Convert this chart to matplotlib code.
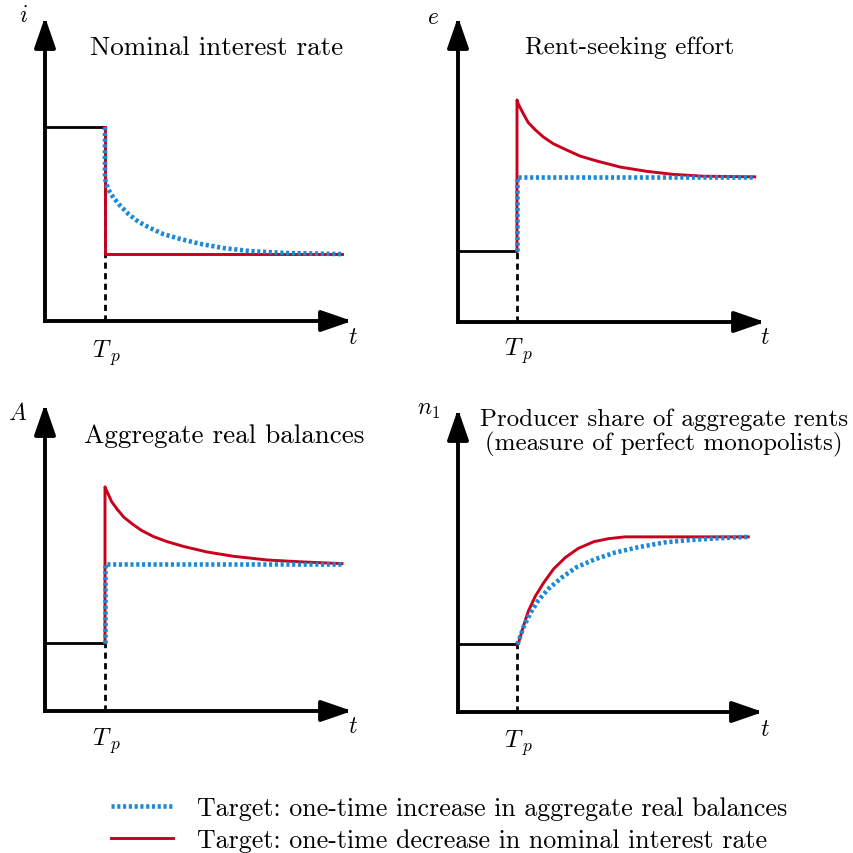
import numpy as np
import matplotlib
matplotlib.use("Agg")
import matplotlib.pyplot as plt

plt.rcParams["font.family"] = ["cmr10", "DejaVu Serif"]
plt.rcParams["mathtext.fontset"] = "cm"
plt.rcParams["axes.unicode_minus"] = False

RED = "#c8001e"
BLUE = "#1a8ad6"

# time of policy change (all panels use Tp = 1)
Tp = 1.0

# panel 1: nominal interest rate
i_before = 3.19
i_after = 1.10
i_end = 4.95
i_blue_x = [1.0, 1.0, 1.05, 1.14, 1.25, 1.39, 1.56, 1.75, 1.97, 2.25, 2.58, 2.97, 3.42, 3.97, 4.95]
i_blue_y = [3.19, 2.34, 2.17, 2.03, 1.90, 1.76, 1.63, 1.53, 1.43, 1.35, 1.27, 1.20, 1.15, 1.12, 1.10]

# panel 2: rent-seeking effort
e_before = 1.16
e_after = 2.38
e_end = 5.03
e_red_x = [1.0, 1.0, 1.02, 1.05, 1.11, 1.19, 1.31, 1.45, 1.62, 1.84, 2.07, 2.35, 2.75, 3.20, 3.65, 4.16, 5.03]
e_red_y = [1.16, 3.64, 3.58, 3.52, 3.41, 3.27, 3.15, 3.03, 2.92, 2.82, 2.72, 2.64, 2.54, 2.47, 2.42, 2.39, 2.38]

# panel 3: aggregate real balances
A_before = 1.11
A_after = 2.39
A_end = 4.95
A_red_x = [1.0, 1.0, 1.03, 1.06, 1.11, 1.20, 1.31, 1.45, 1.61, 1.81, 2.03, 2.31, 2.70, 3.14, 3.70, 4.25, 4.95]
A_red_y = [1.11, 3.65, 3.58, 3.52, 3.41, 3.29, 3.16, 3.05, 2.94, 2.84, 2.76, 2.68, 2.59, 2.52, 2.46, 2.43, 2.40]

# panel 4: producer share of aggregate rents
n_before = 1.12
n_red_x = [1.0, 1.02, 1.11, 1.19, 1.31, 1.45, 1.62, 1.82, 2.04, 2.30, 2.55, 2.83, 4.92]
n_red_y = [1.12, 1.12, 1.42, 1.66, 1.91, 2.13, 2.36, 2.55, 2.70, 2.81, 2.86, 2.89, 2.89]
n_blue_x = [1.0, 1.02, 1.11, 1.22, 1.36, 1.53, 1.76, 2.01, 2.32, 2.66, 3.06, 3.51, 3.96, 4.47, 4.92]
n_blue_y = [1.12, 1.15, 1.40, 1.62, 1.84, 2.03, 2.22, 2.39, 2.52, 2.63, 2.72, 2.80, 2.84, 2.87, 2.89]

W = H = 854.0


def px_axes(fig, x0, y0, x1, y1):
    # axes box from pixel corners (origin at x0,y0; arrow tips at x1 and y1)
    return fig.add_axes([x0 / W, 1 - y0 / H, (x1 - x0) / W, (y0 - y1) / H])


def setup(ax, xmax):
    ax.set_xlim(0, xmax)
    ax.set_ylim(0, 5)
    ax.axis("off")
    arrow = dict(arrowstyle="-|>,head_length=0.75,head_width=0.26", lw=2.8,
                 color="black", mutation_scale=25, shrinkA=0, shrinkB=0,
                 capstyle="projecting")
    ax.annotate("", xy=(1, 0), xytext=(0, 0), xycoords="axes fraction",
                arrowprops=arrow, annotation_clip=False)
    ax.annotate("", xy=(0, 1), xytext=(0, 0), xycoords="axes fraction",
                arrowprops=arrow, annotation_clip=False)


def base(ax, level):
    ax.plot([0, Tp], [level, level], color="black", lw=2.0, solid_capstyle="butt")
    ax.plot([Tp, Tp], [0, level], color="black", lw=2.0, ls=(0, (2.2, 1.6)))


def red(ax, x, y):
    return ax.plot(x, y, color=RED, lw=2.1, solid_joinstyle="round")[0]


def blue(ax, x, y):
    return ax.plot(x, y, color=BLUE, lw=3.3, ls=(0, (0.68, 0.58)),
                   dash_capstyle="butt")[0]


fig = plt.figure(figsize=(8.54, 8.54), dpi=100)

ax1 = px_axes(fig, 45, 322, 352, 18)
setup(ax1, 307 / 60)
base(ax1, i_before)
red(ax1, [Tp, Tp, i_end], [i_before, i_after, i_after])
blue(ax1, i_blue_x, i_blue_y)

ax2 = px_axes(fig, 458, 323, 765, 18)
setup(ax2, 307 / 59)
base(ax2, e_before)
red(ax2, e_red_x, e_red_y)
blue(ax2, [Tp, Tp, e_end], [e_before, e_after, e_after])

ax3 = px_axes(fig, 45, 712, 352, 405)
setup(ax3, 307 / 60)
base(ax3, A_before)
h_red = red(ax3, A_red_x, A_red_y)
h_blue = blue(ax3, [Tp, Tp, A_end], [A_before, A_after, A_after])

ax4 = px_axes(fig, 458, 713, 763, 410)
setup(ax4, 305 / 59)
base(ax4, n_before)
red(ax4, n_red_x, n_red_y)
blue(ax4, n_blue_x, n_blue_y)


def ftext(x, y, s, **kw):
    fig.text(x / W, 1 - y / H, s, ha="center", va="center", **kw)


ftext(217, 48, "Nominal interest rate", fontsize=19.5)
ftext(630, 48, "Rent-seeking effort", fontsize=18.2)
ftext(224, 436, "Aggregate real balances", fontsize=19.5)
ftext(664, 433, "Producer share of aggregate rents\n(measure of perfect monopolists)",
      fontsize=18, linespacing=1.05)

lab_fs = 17
ftext(23, 16, r"$i$", fontsize=lab_fs)
ftext(433, 18, r"$e$", fontsize=lab_fs)
ftext(18, 414, r"$A$", fontsize=lab_fs)
ftext(429, 410, r"$n_{1}$", fontsize=lab_fs)
for tx, ty in [(353, 338), (765, 338), (353, 727), (765, 730)]:
    ftext(tx, ty, r"$t$", fontsize=lab_fs)
for tx, ty in [(107, 353), (519, 351), (107, 741), (519, 743)]:
    ftext(tx, ty, r"$T_{\;p}$", fontsize=18)

fig.legend([h_blue, h_red],
           ["Target: one-time increase in aggregate real balances",
            "Target: one-time decrease in nominal interest rate"],
           loc="center", bbox_to_anchor=(449 / W, 1 - 825 / H), frameon=False,
           fontsize=18.7, handlelength=2.4, handletextpad=0.9, labelspacing=0.3,
           borderpad=0.0)

fig.savefig("out.png", dpi=100)
